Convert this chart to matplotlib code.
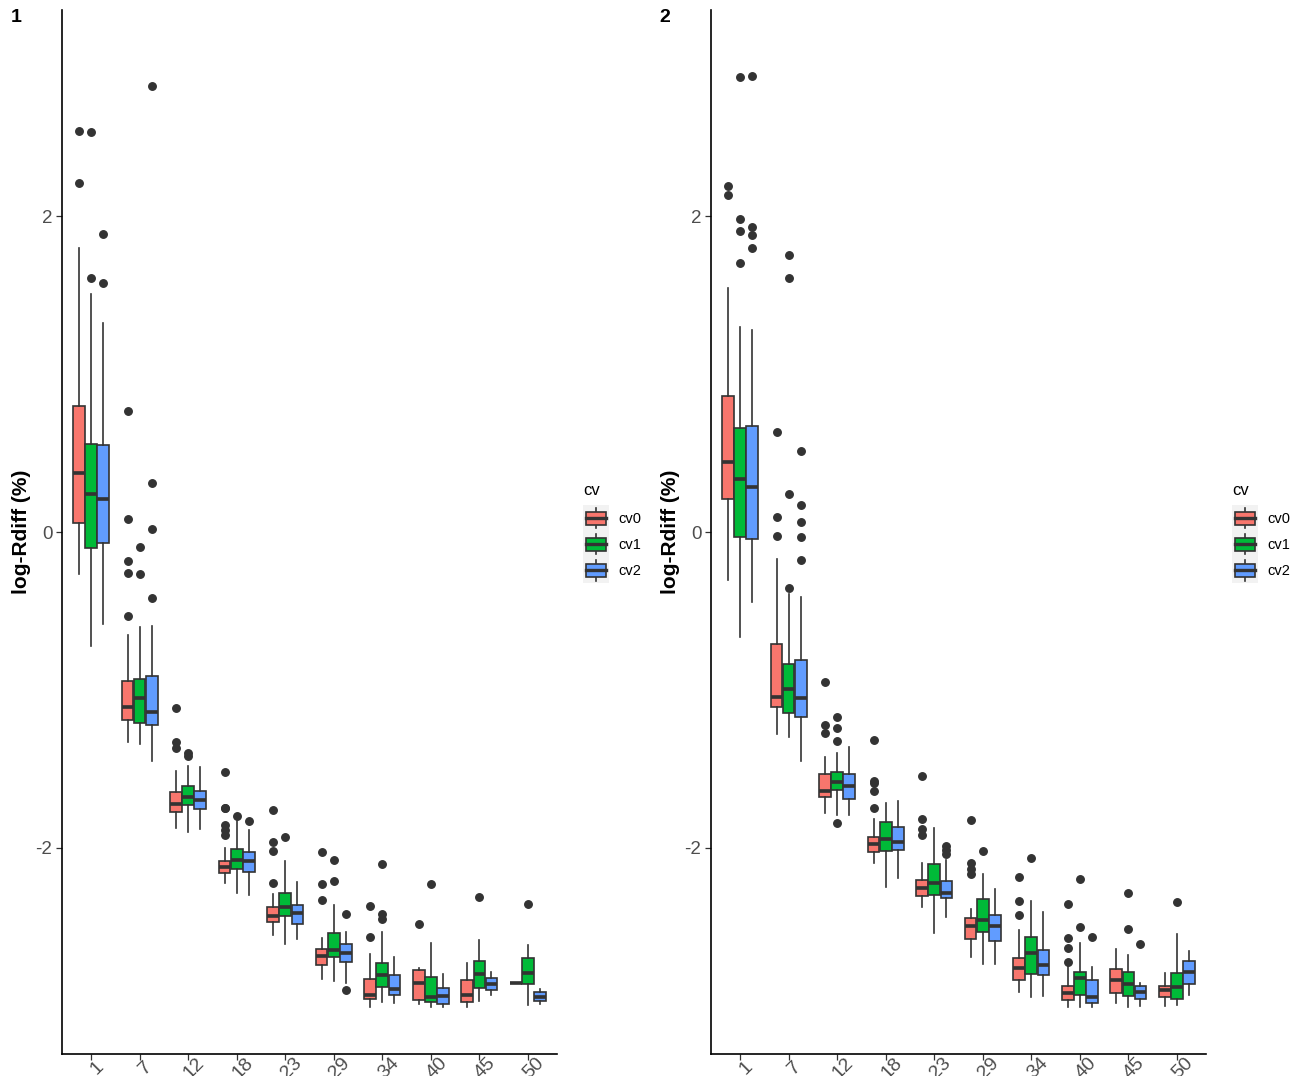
import matplotlib
matplotlib.use('Agg')
import matplotlib.pyplot as plt
from matplotlib.patches import Rectangle, Patch
from matplotlib.lines import Line2D
from matplotlib.legend_handler import HandlerBase

plt.rcParams['font.family'] = ['Liberation Sans', 'DejaVu Sans']

# ---------------- data ----------------
categories = ['1', '7', '12', '18', '23', '29', '34', '40', '45', '50']
groups = ['cv0', 'cv1', 'cv2']
colors = ['#F8766D', '#00BA38', '#619CFF']
panel_labels = ['1', '2']
legend_title = 'cv'
y_label = 'log-Rdiff (%)'
y_ticks = [-2, 0, 2]

# Panel 1 box statistics, rows = cv0, cv1, cv2
p1_whishi = [
    [1.80, -0.65, -1.51, -2.00, -2.29, -2.57, -2.67, -2.76, -2.73, -2.857],
    [1.505, -0.604, -1.481, -1.829, -2.084, -2.361, -2.534, -2.601, -2.582, -2.614],
    [1.321, -0.592, -1.487, -1.886, -2.217, -2.532, -2.690, -2.80, -2.787, -2.890],
]
p1_q3 = [
    [0.80, -0.945, -1.648, -2.082, -2.376, -2.637, -2.829, -2.774, -2.835, -2.857],
    [0.560, -0.930, -1.606, -2.006, -2.283, -2.540, -2.730, -2.816, -2.715, -2.696],
    [0.551, -0.913, -1.637, -2.025, -2.361, -2.608, -2.804, -2.886, -2.821, -2.911],
]
p1_med = [
    [0.374, -1.108, -1.724, -2.118, -2.430, -2.684, -2.932, -2.857, -2.932, -2.857],
    [0.242, -1.051, -1.675, -2.078, -2.376, -2.646, -2.804, -2.945, -2.797, -2.789],
    [0.210, -1.141, -1.694, -2.084, -2.413, -2.663, -2.894, -2.937, -2.861, -2.941],
]
p1_q1 = [
    [0.060, -1.19, -1.774, -2.156, -2.470, -2.741, -2.956, -2.960, -2.975, -2.857],
    [-0.101, -1.211, -1.730, -2.131, -2.430, -2.688, -2.880, -2.977, -2.886, -2.863],
    [-0.072, -1.224, -1.755, -2.154, -2.483, -2.724, -2.932, -2.985, -2.897, -2.968],
]
p1_whislo = [
    [-0.266, -1.329, -1.875, -2.22, -2.553, -2.829, -3.006, -2.990, -3.004, -2.857],
    [-0.720, -1.344, -1.897, -2.285, -2.610, -2.842, -2.977, -3.004, -2.966, -2.994],
    [-0.585, -1.449, -1.878, -2.30, -2.576, -2.857, -2.983, -3.004, -2.930, -2.990],
]
p1_fliers_cv0 = [[2.536, 2.21], [0.766, 0.085, -0.181, -0.258, -0.531], [-1.116, -1.331, -1.369],
                 [-1.519, -1.745, -1.75, -1.854, -1.886, -1.918], [-1.759, -1.962, -2.021, -2.219],
                 [-2.027, -2.23, -2.327], [-2.365, -2.561], [-2.483], [], []]
p1_fliers_cv1 = [[2.529, 1.609], [-0.097, -0.266], [-1.40, -1.418], [-1.797], [-1.932],
                 [-2.078, -2.209], [-2.101, -2.42, -2.447], [-2.23], [-2.31], [-2.352]]
p1_fliers_cv2 = [[1.889, 1.575], [2.82, 0.309, 0.017, -0.418], [], [-1.831], [],
                 [-2.42, -2.901], [], [], [], []]

# Panel 2 box statistics
p2_whishi = [
    [1.546, -0.169, -1.422, -1.816, -2.093, -2.384, -2.521, -2.734, -2.639, -2.793],
    [1.300, -0.394, -1.397, -1.715, -1.875, -2.165, -2.335, -2.601, -2.677, -2.546],
    [1.280, -0.411, -1.361, -1.70, -2.076, -2.262, -2.407, -2.755, -2.852, -2.650],
]
p2_q3 = [
    [0.862, -0.709, -1.534, -1.928, -2.205, -2.443, -2.694, -2.873, -2.766, -2.875],
    [0.657, -0.838, -1.517, -1.835, -2.101, -2.325, -2.563, -2.783, -2.785, -2.789],
    [0.674, -0.810, -1.534, -1.867, -2.209, -2.424, -2.643, -2.835, -2.873, -2.717],
]
p2_med = [
    [0.442, -1.046, -1.637, -1.975, -2.256, -2.494, -2.757, -2.920, -2.835, -2.899],
    [0.333, -0.996, -1.580, -1.945, -2.224, -2.458, -2.667, -2.825, -2.863, -2.880],
    [0.285, -1.053, -1.606, -1.960, -2.283, -2.494, -2.741, -2.945, -2.909, -2.787],
]
p2_q1 = [
    [0.210, -1.110, -1.677, -2.025, -2.304, -2.574, -2.835, -2.962, -2.918, -2.943],
    [-0.031, -1.146, -1.635, -2.021, -2.297, -2.530, -2.795, -2.930, -2.935, -2.956],
    [-0.043, -1.171, -1.688, -2.013, -2.319, -2.589, -2.806, -2.983, -2.958, -2.861],
]
p2_whislo = [
    [-0.302, -1.278, -1.781, -2.093, -2.371, -2.688, -2.911, -3.004, -2.979, -2.998],
    [-0.664, -1.30, -1.791, -2.247, -2.536, -2.736, -2.941, -3.004, -3.004, -2.994],
    [-0.442, -1.447, -1.793, -2.188, -2.439, -2.736, -2.937, -3.004, -3.0, -2.930],
]
p2_fliers_cv0 = [[2.193, 2.130], [0.635, 0.097, -0.027], [-0.947, -1.222, -1.270],
                 [-1.316, -1.574, -1.591, -1.639, -1.747], [-1.544, -1.816, -1.882, -1.920],
                 [-1.825, -2.097, -2.131, -2.167], [-2.181, -2.333, -2.426],
                 [-2.354, -2.570, -2.631, -2.722], [], []]
p2_fliers_cv1 = [[2.882, 1.981, 1.908, 1.703], [1.756, 1.609, 0.239, -0.357],
                 [-1.169, -1.239, -1.323, -1.842], [], [], [-2.017], [-2.061],
                 [-2.198, -2.500], [-2.287, -2.513], [-2.344]]
p2_fliers_cv2 = [[2.889, 1.928, 1.879, 1.797], [0.510, 0.174, 0.063, -0.034, -0.176],
                 [], [], [-1.987, -2.013, -2.038], [], [], [-2.565], [-2.61], []]

panels = [
    (p1_whislo, p1_q1, p1_med, p1_q3, p1_whishi, [p1_fliers_cv0, p1_fliers_cv1, p1_fliers_cv2]),
    (p2_whislo, p2_q1, p2_med, p2_q3, p2_whishi, [p2_fliers_cv0, p2_fliers_cv1, p2_fliers_cv2]),
]

# ---------------- style ----------------
EDGE = '#333333'
TXT = '#4D4D4D'
LW = 1.2
W, H = 1303, 1076
fig = plt.figure(figsize=(W / 100, H / 100), dpi=100)


class BoxKey(HandlerBase):
    def create_artists(self, legend, orig_handle, xd, yd, w, h, fontsize, trans):
        x0, y0 = -xd, -yd
        hh = h
        fc = orig_handle.get_facecolor()
        arts = [Rectangle((x0, y0), w, hh, facecolor='#F2F2F2', edgecolor='none', transform=trans)]
        arts.append(Line2D([x0 + w / 2] * 2, [y0 + 0.1 * hh, y0 + 0.25 * hh], color=EDGE, lw=LW, transform=trans))
        arts.append(Line2D([x0 + w / 2] * 2, [y0 + 0.75 * hh, y0 + 0.9 * hh], color=EDGE, lw=LW, transform=trans))
        arts.append(Rectangle((x0 + 0.1 * w, y0 + 0.25 * hh), 0.8 * w, 0.5 * hh, facecolor=fc,
                              edgecolor=EDGE, lw=LW, transform=trans))
        arts.append(Line2D([x0 + 0.1 * w, x0 + 0.9 * w], [y0 + 0.5 * hh] * 2, color=EDGE, lw=2 * LW, transform=trans))
        return arts


ax_lefts = [62, 711]
ax_w = 495
ax_top, ax_bot = 10, 1054
offsets = [-0.25, 0.0, 0.25]

for pi, (wlo, q1, med, q3, whi, fl) in enumerate(panels):
    ax = fig.add_axes([ax_lefts[pi] / W, (H - ax_bot) / H, ax_w / W, (ax_bot - ax_top) / H])
    for gi in range(3):
        stats = []
        for ci in range(len(categories)):
            stats.append(dict(med=med[gi][ci], q1=q1[gi][ci], q3=q3[gi][ci],
                              whislo=wlo[gi][ci], whishi=whi[gi][ci], fliers=fl[gi][ci]))
        pos = [ci + offsets[gi] for ci in range(len(categories))]
        ax.bxp(stats, positions=pos, widths=0.24, patch_artist=True, showcaps=False,
               boxprops=dict(facecolor=colors[gi], edgecolor=EDGE, linewidth=LW),
               medianprops=dict(color=EDGE, linewidth=2.2 * LW, solid_capstyle='butt'),
               whiskerprops=dict(color=EDGE, linewidth=LW),
               flierprops=dict(marker='o', markerfacecolor=EDGE, markeredgecolor=EDGE,
                               markersize=5.4, linestyle='none'),
               manage_ticks=False)
    ax.set_xlim(-0.6, len(categories) - 0.4)
    ax.set_ylim(-3.304, 3.304)
    ax.set_xticks(range(len(categories)))
    ax.set_xticklabels(categories, rotation=45, rotation_mode='anchor', ha='center', va='top',
                       fontsize=14, color=TXT)
    ax.set_yticks(y_ticks)
    ax.set_yticklabels([str(t) for t in y_ticks], fontsize=13.5, color=TXT)
    ax.tick_params(axis='both', length=4, width=0.9, color=EDGE, pad=3)
    ax.tick_params(axis='x', pad=2)
    for s in ['top', 'right']:
        ax.spines[s].set_visible(False)
    for s in ['left', 'bottom']:
        ax.spines[s].set_linewidth(1.2)
        ax.spines[s].set_color('black')
    ax.set_facecolor('white')

    # y-label and panel label
    fig.text((ax_lefts[pi] - 40) / W, 1 - 532 / H, y_label, rotation=90, ha='center', va='center',
             fontsize=15, fontweight='bold', color='black')
    fig.text((ax_lefts[pi] - 46) / W, 1 - 18 / H, panel_labels[pi], ha='center', va='center',
             fontsize=14, fontweight='bold', color='black')

    # legend (title drawn separately to control spacing)
    leg_x = ax_lefts[pi] + ax_w + 26
    fig.text(leg_x / W, 1 - 490 / H, legend_title, ha='left', va='center',
             fontsize=12, color='black')
    handles = [Patch(facecolor=c) for c in colors]
    leg = ax.legend(handles, groups, handler_map={Patch: BoxKey()}, loc='upper left',
                    bbox_to_anchor=(leg_x / W, 1 - 505 / H),
                    bbox_transform=fig.transFigure, frameon=False,
                    fontsize=10.5, handlelength=1.75, handleheight=2.37,
                    labelspacing=0, handletextpad=0.7, borderpad=0, borderaxespad=0)
    for t in leg.get_texts():
        t.set_color('black')

fig.savefig('out.png', dpi=100, facecolor='white')
